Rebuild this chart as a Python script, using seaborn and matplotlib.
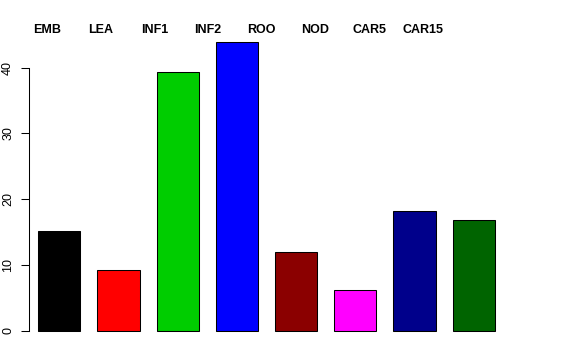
import pandas as pd
import matplotlib
matplotlib.use('Agg')
import matplotlib.pyplot as plt
import seaborn as sns

# values
tissues = ['EMB', 'LEA', 'INF1', 'INF2', 'ROO', 'NOD', 'CAR5', 'CAR15']
values = [15.1, 9.25, 39.4, 43.85, 11.9, 6.2, 18.25, 16.8]
colors = ['#000000', '#FF0000', '#00CD00', '#0000FF',
          '#8B0000', '#FF00FF', '#00008B', '#006400']

df = pd.DataFrame({'tissue': tissues, 'value': values})

sns.set_style('white')
plt.rcParams['font.family'] = ['Liberation Sans', 'DejaVu Sans']
plt.rcParams['text.color'] = 'black'
plt.rcParams['ytick.color'] = 'black'
plt.rcParams['xtick.color'] = 'black'

W, H = 576, 360
fig = plt.figure(figsize=(W / 100, H / 100), dpi=100)

# axes placement in pixels (matched to reference)
px_per_bar = 59.2
first_center = 59.3
left_px = 28.7
xlo = -(first_center - left_px) / px_per_bar
xhi = 7.55
y_px = 6.575
zero_px = 330.7
ylo, yhi = -1.8, 46
ax_w = (xhi - xlo) * px_per_bar
ax_bottom = zero_px - ylo * y_px
ax_top = zero_px - yhi * y_px
ax = fig.add_axes([left_px / W, 1 - ax_bottom / H, ax_w / W, (ax_bottom - ax_top) / H])

sns.barplot(data=df, x='tissue', y='value', hue='tissue', palette=colors,
            width=0.71, edgecolor='black', linewidth=0.75, legend=False,
            saturation=1, ax=ax)

ax.set_xlim(xlo, xhi)
ax.set_ylim(ylo, yhi)
ax.set_xlabel('')
ax.set_ylabel('')
ax.set_xticks([])
ax.set_yticks([0, 10, 20, 30, 40])
ax.tick_params(axis='y', left=True, length=5.5, width=0.75, pad=5,
               labelsize=9, labelrotation=90, labelcolor='black')
for lbl in ax.get_yticklabels():
    lbl.set_va('center')
for side in ['top', 'right', 'bottom']:
    ax.spines[side].set_visible(False)
ax.spines['left'].set_bounds(0, 40)
ax.spines['left'].set_color('black')
ax.spines['left'].set_linewidth(0.75)

# tissue names along the top
for i, name in enumerate(tissues):
    fig.text((47 + 53.7 * i) / W, 1 - 30 / H, name, ha='center', va='center',
             fontsize=9, fontweight='bold', color='black')

fig.savefig('out.png', dpi=100, facecolor='white')
